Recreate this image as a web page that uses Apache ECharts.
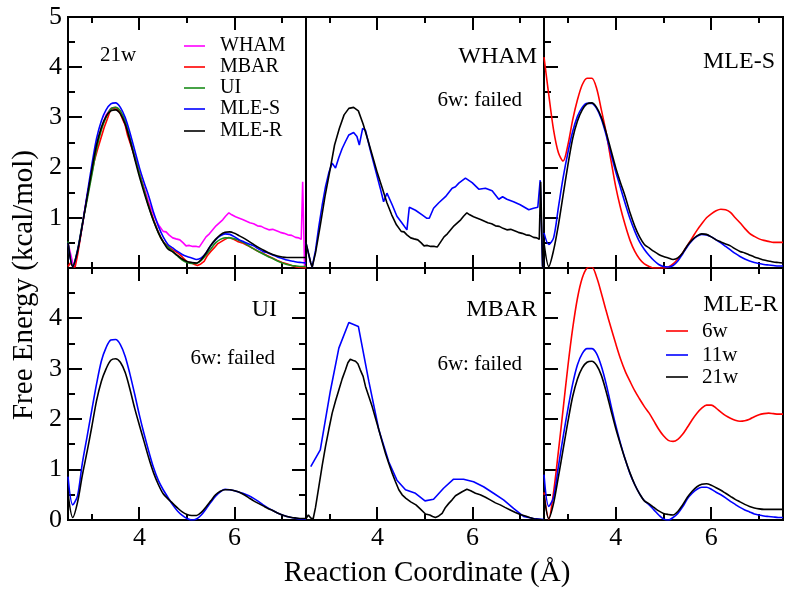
<!DOCTYPE html>
<html><head><meta charset="utf-8">
<script src="https://cdn.jsdelivr.net/npm/echarts@6/dist/echarts.min.js"></script>
<style>html,body{margin:0;padding:0;background:#fff}#c{width:800px;height:592px}</style>
</head><body><div id="c"></div>
<script>
// ---- data ----
const rc = [2.5,2.6,2.7,2.8,2.9,3.0,3.1,3.2,3.3,3.4,3.5,3.6,3.7,3.8,3.9,4.0,4.1,4.2,4.3,4.4,4.5,4.6,4.7,4.8,4.9,5.0,5.1,5.2,5.3,5.4,5.5,5.6,5.7,5.8,5.9,6.0,6.1,6.2,6.3,6.4,6.5,6.6,6.7,6.8,6.9,7.0,7.1,7.2,7.3,7.4,7.5];

const ui21 = [0.53,0.05,0.35,0.88,1.35,1.85,2.37,2.75,3.0,3.17,3.2,3.13,2.93,2.6,2.22,1.88,1.55,1.22,0.93,0.7,0.52,0.42,0.33,0.24,0.16,0.11,0.09,0.09,0.15,0.26,0.38,0.5,0.57,0.6,0.6,0.58,0.55,0.5,0.44,0.38,0.33,0.28,0.23,0.19,0.14,0.1,0.07,0.05,0.04,0.03,0.03];
const ui11 = [0.86,0.3,0.48,1.12,1.65,2.18,2.7,3.15,3.42,3.57,3.58,3.48,3.25,2.9,2.5,2.08,1.7,1.35,1.03,0.78,0.6,0.45,0.3,0.18,0.09,0.03,0.0,0.02,0.1,0.22,0.35,0.47,0.56,0.61,0.6,0.58,0.55,0.52,0.48,0.43,0.37,0.3,0.24,0.19,0.14,0.1,0.07,0.05,0.03,0.02,0.02];

const mles21 = [0.5,0.03,0.35,0.85,1.45,2.05,2.58,2.93,3.15,3.27,3.29,3.2,3.0,2.7,2.35,2.0,1.7,1.42,1.1,0.83,0.62,0.47,0.4,0.33,0.27,0.23,0.2,0.17,0.2,0.3,0.45,0.56,0.64,0.68,0.67,0.62,0.56,0.52,0.48,0.44,0.38,0.33,0.3,0.26,0.22,0.19,0.16,0.14,0.12,0.11,0.1];
const mles11 = [0.7,0.47,0.6,1.2,1.8,2.3,2.72,3.02,3.2,3.28,3.28,3.18,2.97,2.65,2.28,1.92,1.6,1.28,0.98,0.73,0.52,0.37,0.25,0.15,0.07,0.03,0.02,0.05,0.14,0.28,0.43,0.55,0.63,0.67,0.66,0.62,0.56,0.5,0.43,0.36,0.29,0.23,0.18,0.14,0.11,0.09,0.07,0.06,0.05,0.04,0.04];
const mles6 = [4.2,3.45,2.75,2.3,2.13,2.45,2.95,3.35,3.65,3.78,3.78,3.58,3.15,2.7,2.15,1.62,1.2,0.85,0.55,0.33,0.18,0.08,0.03,0.0,0.0,0.0,0.02,0.08,0.18,0.3,0.45,0.6,0.75,0.88,1.0,1.08,1.14,1.17,1.16,1.11,1.0,0.9,0.79,0.69,0.63,0.58,0.55,0.53,0.51,0.51,0.51];

const mler21 = [0.5,0.03,0.33,0.85,1.4,1.95,2.45,2.8,3.02,3.13,3.15,3.07,2.87,2.55,2.18,1.82,1.5,1.2,0.93,0.7,0.52,0.38,0.32,0.25,0.18,0.13,0.11,0.1,0.17,0.3,0.45,0.57,0.66,0.71,0.72,0.69,0.64,0.59,0.53,0.47,0.41,0.36,0.31,0.27,0.24,0.22,0.21,0.21,0.21,0.21,0.21];
const mler11 = [0.9,0.27,0.45,1.05,1.65,2.2,2.7,3.08,3.3,3.4,3.4,3.3,3.05,2.7,2.28,1.88,1.52,1.2,0.92,0.7,0.52,0.38,0.3,0.2,0.1,0.02,0.0,0.05,0.13,0.26,0.42,0.53,0.61,0.65,0.65,0.61,0.55,0.5,0.44,0.37,0.31,0.25,0.2,0.16,0.12,0.1,0.08,0.07,0.06,0.05,0.05];
const mler6 = [0.55,0.02,0.55,1.35,2.2,3.05,3.8,4.4,4.8,5.0,5.02,4.82,4.5,4.15,3.82,3.5,3.2,2.95,2.75,2.56,2.4,2.25,2.12,1.96,1.8,1.67,1.58,1.56,1.6,1.7,1.84,1.99,2.12,2.22,2.28,2.28,2.22,2.14,2.07,2.02,1.98,1.96,1.97,2.0,2.05,2.09,2.11,2.12,2.11,2.1,2.1];

const rcWham21 = [2.5,2.6,2.63,2.7,2.8,2.9,3.0,3.1,3.2,3.3,3.4,3.5,3.6,3.7,3.8,3.9,4.0,4.1,4.2,4.3,4.4,4.5,4.56,4.62,4.7,4.77,4.85,4.92,4.98,5.05,5.12,5.2,5.26,5.33,5.4,5.47,5.54,5.61,5.68,5.75,5.81,5.88,5.94,6.02,6.1,6.18,6.25,6.32,6.4,6.48,6.56,6.64,6.72,6.8,6.88,6.96,7.04,7.12,7.2,7.28,7.35,7.4,7.43,7.47,7.5];
const wham21 = [0.5,0.1,0.02,0.3,0.85,1.43,1.93,2.45,2.78,3.05,3.18,3.2,3.13,2.87,2.55,2.22,1.89,1.6,1.3,1.06,0.86,0.73,0.72,0.66,0.6,0.58,0.56,0.5,0.44,0.45,0.43,0.43,0.42,0.52,0.62,0.68,0.76,0.84,0.9,0.96,1.03,1.1,1.06,1.02,0.99,0.96,0.93,0.9,0.88,0.84,0.83,0.79,0.76,0.77,0.74,0.71,0.69,0.66,0.65,0.61,0.6,0.57,1.72,0.03,0.03];

const rcWham11 = [2.5,2.6,2.63,2.7,2.77,2.84,2.91,2.98,3.05,3.12,3.19,3.26,3.33,3.4,3.5,3.57,3.62,3.69,3.75,3.85,3.96,4.06,4.13,4.2,4.31,4.41,4.52,4.62,4.67,4.8,4.94,5.04,5.09,5.18,5.29,5.43,5.57,5.64,5.71,5.85,5.99,6.13,6.27,6.41,6.55,6.63,6.72,6.86,7.0,7.18,7.28,7.37,7.42,7.47,7.5];
const wham11 = [0.5,0.1,0.02,0.35,0.83,1.25,1.62,1.9,2.09,1.99,2.2,2.38,2.52,2.65,2.7,2.62,2.45,2.78,2.74,2.35,1.95,1.59,1.32,1.49,1.26,1.03,0.89,0.76,1.21,1.15,1.06,0.99,0.99,1.19,1.3,1.42,1.59,1.62,1.69,1.79,1.7,1.57,1.59,1.54,1.37,1.42,1.37,1.32,1.26,1.16,1.19,1.21,1.75,0.03,0.03];

const rcMbar21 = [2.5,2.55,2.6,2.65,2.7,2.77,2.84,2.91,2.98,3.05,3.12,3.19,3.26,3.33,3.38,3.43,3.48,3.54,3.59,3.64,3.7,3.75,3.82,3.89,3.96,4.03,4.1,4.17,4.24,4.31,4.38,4.45,4.52,4.6,4.7,4.81,4.9,5.01,5.1,5.16,5.22,5.29,5.36,5.43,5.5,5.57,5.64,5.71,5.78,5.88,5.96,6.06,6.16,6.27,6.37,6.48,6.58,6.68,6.79,6.9,7.0,7.11,7.2,7.3,7.4,7.5];
const mbar21 = [0.03,0.1,0.04,0.02,0.25,0.66,1.08,1.46,1.8,2.12,2.36,2.58,2.8,2.98,3.12,3.19,3.17,3.15,3.1,2.98,2.85,2.65,2.45,2.25,2.02,1.79,1.55,1.32,1.12,0.93,0.76,0.6,0.5,0.43,0.36,0.3,0.22,0.12,0.1,0.07,0.05,0.08,0.13,0.25,0.33,0.4,0.48,0.52,0.56,0.61,0.58,0.53,0.5,0.45,0.4,0.34,0.3,0.25,0.2,0.15,0.11,0.08,0.05,0.02,0.01,0.0];

const rcMbar11 = [2.6,2.8,3.01,3.19,3.4,3.6,3.82,4.03,4.24,4.41,4.59,4.8,5.0,5.18,5.39,5.6,5.81,6.02,6.23,6.44,6.65,6.86,7.07,7.28,7.5];
const mbar11 = [1.06,1.39,2.55,3.41,3.92,3.84,2.75,1.79,1.15,0.79,0.6,0.53,0.38,0.41,0.63,0.81,0.81,0.76,0.66,0.53,0.4,0.23,0.07,0.03,0.01];

const xMajorTicks = [4, 6];
const xMinorTicks = [3, 5, 7];
const yMajorTicks = [1, 2, 3, 4];
const yMinorTicks = [0.5, 1.5, 2.5, 3.5, 4.5];
const panelTitles = ['', 'WHAM', 'MLE-S', 'UI', 'MBAR', 'MLE-R'];
const legend1 = ['WHAM', 'MBAR', 'UI', 'MLE-S', 'MLE-R'];
const legend6 = ['6w', '11w', '21w'];

// ---- layout / styling ----
const FONT = '"Liberation Serif","Times New Roman",serif';
const COL = {magenta:'#ff00ff', red:'#ff0000', green:'#1a8c1a', blue:'#0000ff', black:'#000000'};
const GRIDS = [
  {left:68, top:17, width:238, height:251},
  {left:306, top:17, width:238, height:251},
  {left:544, top:17, width:239, height:251},
  {left:68, top:268, width:238, height:252},
  {left:306, top:268, width:238, height:252},
  {left:544, top:268, width:239, height:252}
];
const panels = [
  {s:[['WHAM',rcWham21,wham21,'magenta',false],['MBAR',rcMbar21,mbar21,'red',false],['UI',rc,ui21,'green',true],['MLE-S',rc,mles21,'blue',true],['MLE-R',rc,mler21,'black',true]], yl:'top', lt:true, rt:false},
  {s:[['WHAM 11w',rcWham11,wham11,'blue',false],['WHAM 21w',rcWham21,wham21,'black',false]], yl:null, lt:false, rt:false},
  {s:[['MLE-S 6w',rc,mles6,'red',true],['MLE-S 11w',rc,mles11,'blue',true],['MLE-S 21w',rc,mles21,'black',true]], yl:null, lt:true, rt:false},
  {s:[['UI 11w',rc,ui11,'blue',true],['UI 21w',rc,ui21,'black',true]], yl:'bottom', lt:true, rt:true},
  {s:[['MBAR 11w',rcMbar11,mbar11,'blue',false],['MBAR 21w',rcMbar21,mbar21,'black',false]], yl:null, lt:false, rt:false},
  {s:[['6w',rc,mler6,'red',true],['11w',rc,mler11,'blue',true],['21w',rc,mler21,'black',true]], yl:null, lt:true, rt:false}
];

const grid = [], xAxis = [], yAxis = [], series = [];
panels.forEach((p, i) => {
  grid.push(Object.assign({show:true, borderColor:'#000', borderWidth:2}, GRIDS[i]));
  const bottomRow = i >= 3;
  xAxis.push({
    gridIndex:i, type:'value', min:2.5, max:7.5, position:'bottom',
    axisLine:{show:true, onZero:false, lineStyle:{color:'#000', width:2}}, splitLine:{show:false},
    axisTick:{show:false}, minorTick:{show:false},
    axisLabel:{show:bottomRow, customValues:xMajorTicks, fontFamily:FONT, fontSize:26, color:'#000', margin:5}
  });
  const fmt = p.yl === 'top' ? (v => v === 0 ? '' : String(v)) : (v => v === 5 ? '' : String(v));
  yAxis.push({
    gridIndex:i, type:'value', min:0, max:5, interval:1, position:'left',
    axisLine:{show:true, onZero:false, lineStyle:{color:'#000', width:2}}, splitLine:{show:false},
    axisTick:{show:false}, minorTick:{show:false},
    axisLabel:{show:!!p.yl, formatter:fmt, fontFamily:FONT, fontSize:26, color:'#000', margin:6, showMinLabel:true, showMaxLabel:true}
  });
  p.s.forEach(([name, xs, ys, c, sm]) => {
    series.push({
      name, type:'line', xAxisIndex:i, yAxisIndex:i,
      data: xs.map((x, k) => [x, ys[k]]),
      showSymbol:false, symbol:'none', smooth: sm ? 0.3 : false, clip:true,
      lineStyle:{color:COL[c], width:1.6}, itemStyle:{color:COL[c]}, animation:false, silent:true
    });
  });
});

const T = (x, y, text, size, align, extra) => Object.assign({
  type:'text', x, y,
  style:{text, font: size + 'px ' + FONT, fill:'#000', align, verticalAlign:'middle', textAlign:align, textVerticalAlign:'middle'}
}, extra || {});
const L = (x1, x2, y, c) => ({type:'line', shape:{x1, y1:y, x2, y2:y}, style:{stroke:COL[c], lineWidth:1.6}});

const graphic = [
  T(427, 573, 'Reaction Coordinate (Å)', 29, 'center'),
  T(24, 285, 'Free Energy (kcal/mol)', 29, 'center', {rotation: Math.PI / 2}),
  T(100, 55, '21w', 21, 'left'),
  T(537, 57, panelTitles[1], 24, 'right'),
  T(522, 100, '6w: failed', 21, 'right'),
  T(775, 62, panelTitles[2], 24, 'right'),
  T(277, 310, panelTitles[3], 24, 'right'),
  T(275, 358, '6w: failed', 21, 'right'),
  T(537, 310, panelTitles[4], 24, 'right'),
  T(522, 364, '6w: failed', 21, 'right'),
  T(778, 305, panelTitles[5], 24, 'right')
];
const l1c = ['magenta', 'red', 'green', 'blue', 'black'];
const l1y = [46, 67, 88, 109, 131];
legend1.forEach((n, k) => { graphic.push(L(184, 205, l1y[k], l1c[k])); graphic.push(T(220, l1y[k], n, 20, 'left')); });
const l6c = ['red', 'blue', 'black'];
const l6y = [331, 355, 377];
legend6.forEach((n, k) => { graphic.push(L(666, 688, l6y[k], l6c[k])); graphic.push(T(702, l6y[k], n, 21, 'left')); });

const chart = echarts.init(document.getElementById('c'), null, {renderer:'canvas'});
chart.setOption({animation:false, backgroundColor:'#fff', grid, xAxis, yAxis, series});

// inward tick marks: positions come from the axes' own scales via convertToPixel
const TK = (x1, y1, x2, y2) => ({type:'line', shape:{x1, y1, x2, y2}, style:{stroke:'#000', lineWidth:2}});
panels.forEach((p, i) => {
  const g = GRIDS[i];
  const yb = g.top + g.height, yt = g.top, xl = g.left, xr = g.left + g.width;
  const addX = (vals, lenB, lenT) => vals.forEach(v => {
    const px = Math.round(chart.convertToPixel({xAxisIndex:i}, v));
    graphic.push(TK(px, yb, px, yb - lenB));
    graphic.push(TK(px, yt, px, yt + lenT));
  });
  addX(xMajorTicks, 13, 13);
  addX(xMinorTicks, 6, 6);
  const addY = (vals, len) => vals.forEach(v => {
    const py = Math.round(chart.convertToPixel({yAxisIndex:i}, v));
    if (p.lt) graphic.push(TK(xl, py, xl + len, py));
    if (p.rt) graphic.push(TK(xr, py, xr - len, py));
  });
  addY(yMajorTicks, 14);
  addY(yMinorTicks, 7);
});
chart.setOption({graphic});
</script>
</body></html>
